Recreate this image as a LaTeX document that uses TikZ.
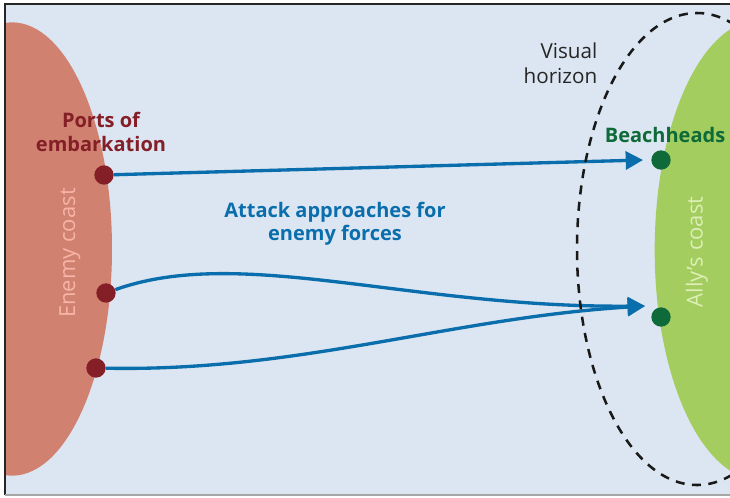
\documentclass[tikz,border=0pt]{standalone}
\usepackage{fontspec}
\setmainfont{Open Sans}
\usepackage{xcolor}
\usetikzlibrary{arrows.meta, positioning}

\definecolor{seabg}{HTML}{DCE6F2}
\definecolor{enemyland}{HTML}{D08170}
\definecolor{enemytext}{HTML}{F7B4A6}
\definecolor{allyland}{HTML}{A3CD5F}
\definecolor{allytext}{HTML}{DDEEB6}
\definecolor{portred}{HTML}{841E27}
\definecolor{beachgreen}{HTML}{0E6A38}
\definecolor{routeblue}{HTML}{0A6EAD}

\begin{document}
\begin{tikzpicture}[
    x=0.75pt, y=-0.75pt,
    port/.style={circle, fill=portred, minimum size=14.5pt, inner sep=0pt},
    beach/.style={circle, fill=beachgreen, minimum size=14.5pt, inner sep=0pt},
    route/.style={draw=routeblue, line width=2.5pt,
        -{Triangle[length=13pt, width=13.5pt]}},
    lbl/.style={font=\fontsize{15}{17.5}\selectfont\bfseries, align=center},
    coastlbl/.style={font=\fontsize{16.5}{18}\selectfont, rotate=90},
]

%% ---- FRAME & SEA ----
\useasboundingbox (0,0) rectangle (730,497);
\fill[seabg] (5,4) rectangle (730,495);

%% ---- COASTS ----
\begin{scope}
    \clip (5,4) rectangle (730,495);
    \fill[enemyland] (12,249) ellipse [x radius=75pt, y radius=170pt];
    \fill[allyland] (760,250) ellipse [x radius=79pt, y radius=172.5pt];
\end{scope}

\draw[black!85, line width=1.2pt] (5,495) -- (5,4) -- (730,4);
\draw[black!35, line width=1.3pt] (5,495) -- (730,495);

%% ---- PORTS & BEACHHEADS ----
\node[port] (p1) at (104,175) {};
\node[port] (p2) at (106,293) {};
\node[port] (p3) at (96,368)  {};
\node[beach] (b1) at (661,160) {};
\node[beach] (b2) at (661,317) {};

\coordinate (tip1) at (643,160);
\coordinate (tip2) at (645,306);

%% ---- ROUTES ----
\draw[route] (p1) -- (tip1);
\draw[route] (p2) .. controls (240,245) and (410,308) .. (tip2);
\draw[route] (p3) .. controls (300,372) and (450,318) .. (tip2);

%% ---- HORIZON ----
\begin{scope}
    \clip (5,4) rectangle (730,495);
    \draw[black!90, line width=1.9pt, dash pattern=on 6.75pt off 5.6pt]
        (697,249) ellipse [x radius=90pt, y radius=177pt];
\end{scope}

%% ---- LABELS ----
\node[lbl, text=portred] (portlbl) at (101,132) {Ports of\\embarkation};
\node[lbl, text=routeblue] (routelbl) at (335,224) {Attack approaches for\\enemy forces};
\node[lbl, text=beachgreen] (beachlbl) at (665,135) {Beachheads};
\node[font=\fontsize{15.5}{18.75}\selectfont, align=right, anchor=east, text=black!85]
    (horlbl) at (602,63) {Visual\\horizon};
\node[coastlbl, text=enemytext] (enemylbl) at (70,253) {Enemy coast};
\node[coastlbl, text=allytext] (allylbl) at (697,252) {Ally’s coast};

\end{tikzpicture}
\end{document}
